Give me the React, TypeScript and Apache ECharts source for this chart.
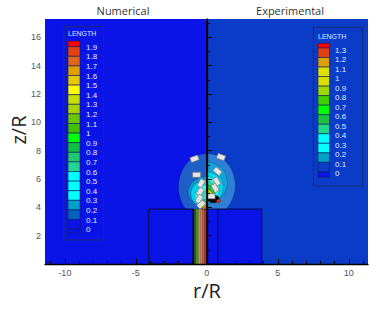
import React, { useEffect, useRef } from "react";
import * as echarts from "echarts";

const X_MIN = -11.4;
const X_MAX = 11.35;
const Y_MIN = 0;
const Y_MAX = 17.3;

const xMajorTicks = [-10, -5, 0, 5, 10];
const xMinorTicks = [-11, -9, -8, -7, -6, -4, -3, -2, -1, 1, 2, 3, 4, 6, 7, 8, 9, 11];
const yMajorTicks = [2, 4, 6, 8, 10, 12, 14, 16];
const yMinorTicks = [1, 3, 5, 7, 9, 11, 13, 15, 17];

// background regions: [r0, r1, z0, z1]
const regions = [
  [-11.4, 0, 0, 17.3],
  [0, 11.35, 0, 17.3],
  [0, 3.87, 0, 3.88],
];
const regionColors = ["#0a14e6", "#0a3cc8", "#0a14e6"];

// jet column stripes (numerical side): [r0, r1, z0, z1]
const jetStripes = [
  [-0.98, -0.9, 0, 3.95],
  [-0.9, -0.76, 0, 3.95],
  [-0.76, -0.6, 0, 3.95],
  [-0.6, -0.46, 0, 3.95],
  [-0.46, -0.32, 0, 3.95],
  [-0.32, -0.16, 0, 3.95],
  [-0.16, 0, 0, 3.95],
];
const jetColors = ["#0c1008", "#28581a", "#5a8c18", "#a0a820", "#d09010", "#dc5a10", "#ee1a04"];

// contour blobs: [side, rCenter, zCenter, rRadius, zRadius, zClip]
const numericalContours = [
  [-1, 0, 5.45, 2.0, 2.35, 3.88],
  [-1, 0, 5.1, 1.32, 1.08, 3.88],
  [-1, 0, 4.95, 1.12, 1.0, 3.88],
  [-1, 0, 4.75, 0.85, 0.85, 3.88],
  [-1, 0, 4.5, 0.6, 0.65, 3.88],
  [-1, 0, 4.2, 0.45, 0.36, 3.88],
  [-1, 0, 4.05, 0.35, 0.22, 3.88],
  [-1, 0, 3.98, 0.2, 0.14, 3.88],
];
const numericalColors = ["#1e5ec8", "#0c96cc", "#00d4ee", "#40f0f0", "#30d8c0", "#20c070", "#a0c000", "#e06000"];

const experimentalContours = [
  [1, 0, 5.55, 2.0, 2.25, 3.88],
  [1, 0, 5.75, 1.45, 1.45, 3.88],
  [1, 0, 5.4, 1.15, 1.1, 3.88],
  [1, 0, 5.3, 0.88, 0.85, 3.88],
  [1, 0, 5.2, 0.65, 0.65, 3.88],
  [1, 0, 5.05, 0.5, 0.55, 3.88],
  [1, 0, 4.85, 0.4, 0.42, 3.88],
  [0, 0.45, 4.6, 0.42, 0.28, 3.88],
  [0, 0.82, 4.45, 0.15, 0.12, 3.88],
];
const experimentalColors = ["#2e80d4", "#14a4d8", "#00d8f0", "#40f4f4", "#30d8a0", "#20c040", "#c0d000", "#000000", "#e03000"];

// nozzle box outlines: [r0, r1, z0, z1]
const boxes = [
  [-4.1, -0.98, 0, 3.88],
  [0, 3.87, 0, 3.88],
];
// separator lines: [r0, z0, r1, z1, width]
const lines = [
  [0, 0, 0, 17.3, 1.3],
  [0.77, 0, 0.77, 3.88, 0.7],
];

// contour labels: [r, z, rotationDeg]
const contourLabels = [
  [-0.87, 7.43, 20],
  [-0.72, 6.3, 0],
  [-0.4, 5.7, 60],
  [-0.47, 5.1, 60],
  [-0.54, 4.6, 60],
  [-0.4, 4.2, 45],
  [1.0, 7.55, -20],
  [0.75, 6.55, -40],
  [0.7, 5.83, -60],
  [0.58, 5.37, -60],
  [0.3, 4.78, 0],
];

const leftLegendLabels = ["1.9", "1.8", "1.7", "1.6", "1.5", "1.4", "1.3", "1.2", "1.1", "1", "0.9", "0.8", "0.7", "0.6", "0.5", "0.4", "0.3", "0.2", "0.1", "0"];
const leftLegendColors = [
  "#ff0000", "#e84010", "#e06818", "#e0a000", "#e8c800", "#ffff00", "#c8e000", "#a8d400", "#68c800", "#40c000",
  "#00ff00", "#10c040", "#20c870", "#20d890", "#00ffff", "#00ffff", "#00ffff", "#00a0c8", "#0060c0", "#0a14e6", "#0a14e6",
];
const rightLegendLabels = ["1.3", "1.2", "1.1", "1", "0.9", "0.8", "0.7", "0.6", "0.5", "0.4", "0.3", "0.2", "0.1", "0"];
const rightLegendColors = [
  "#ff0000", "#e04010", "#e0a000", "#e0e000", "#d8e000", "#a0d800", "#40d000", "#00ff00", "#20c040", "#20d888",
  "#00ffff", "#00ffff", "#00a0c8", "#0a3cc8", "#0a14e6",
];

function ellipseShape(d: number[], api: any) {
  const [side, rc, zc, rr, rz, zClip] = d;
  let a0 = 0;
  let a1 = Math.PI * 2;
  if (side === -1) {
    a0 = Math.PI / 2;
    a1 = (Math.PI * 3) / 2;
  } else if (side === 1) {
    a0 = -Math.PI / 2;
    a1 = Math.PI / 2;
  }
  const pts: number[][] = [];
  const N = 60;
  for (let i = 0; i <= N; i++) {
    const a = a0 + ((a1 - a0) * i) / N;
    const r = rc + rr * Math.cos(a);
    const z = Math.max(zClip, zc + rz * Math.sin(a));
    pts.push(api.coord([r, z]));
  }
  return pts;
}

function legendGraphics(
  box: number[],
  titlePos: number[],
  swX: number,
  swW: number,
  swTop: number,
  firstBoundary: number,
  step: number,
  swBottom: number,
  labelX: number,
  labelDy: number,
  colors: string[],
  labels: string[]
) {
  const els: any[] = [];
  els.push({
    type: "rect",
    z: 100,
    shape: { x: box[0], y: box[1], width: box[2], height: box[3] },
    style: { fill: "none", stroke: "#1a2a78", lineWidth: 1 },
  });
  els.push({
    type: "text",
    z: 100,
    x: titlePos[0],
    y: titlePos[1],
    style: { text: "LENGTH", fontSize: 7, fill: "#dfe6ff", fontFamily: "Liberation Sans", verticalAlign: "middle" },
  });
  const bounds: number[] = [swTop];
  for (let k = 0; k < labels.length; k++) bounds.push(firstBoundary + step * k);
  bounds.push(swBottom);
  for (let i = 0; i < colors.length; i++) {
    els.push({
      type: "rect",
      z: 100,
      shape: { x: swX, y: bounds[i], width: swW, height: bounds[i + 1] - bounds[i] },
      style: { fill: colors[i], stroke: "#14205a", lineWidth: 0.6 },
    });
  }
  labels.forEach((t, k) => {
    els.push({
      type: "text",
      z: 100,
      x: labelX,
      y: firstBoundary + step * k + labelDy,
      style: { text: t, fontSize: 8, fill: "#e6eaff", fontFamily: "Liberation Sans", verticalAlign: "middle" },
    });
  });
  return els;
}

export default function App() {
  const ref = useRef<HTMLDivElement>(null);
  useEffect(() => {
    if (!ref.current) return;
    const chart = echarts.init(ref.current, undefined, { renderer: "svg" });
    const axisFont = "Liberation Sans";
    const leftLegend = legendGraphics([64, 26.5, 39.5, 213.5], [68, 33.5], 68, 12, 41, 46.7, 9.6, 233, 86, 0.5, leftLegendColors, leftLegendLabels);
    const rightLegend = legendGraphics([313.3, 27.3, 49, 158.7], [318, 36], 318, 11.5, 43.3, 48, 9.53, 177.3, 335, 2, rightLegendColors, rightLegendLabels);
    const option: any = {
      animation: false,
      backgroundColor: "#ffffff",
      grid: { left: 45, right: 11, top: 19, bottom: 45, containLabel: false, outerBoundsMode: "none" },
      xAxis: [
        {
          type: "value",
          min: X_MIN,
          max: X_MAX,
          position: "bottom",
          axisLine: { show: true, lineStyle: { color: "#000", width: 1.3 } },
          axisTick: { show: true, inside: true, length: 5, customValues: xMajorTicks, lineStyle: { color: "#000" } },
          axisLabel: { customValues: xMajorTicks, fontSize: 9, color: "#555", fontFamily: axisFont, margin: 4 },
          splitLine: { show: false },
          z: 10,
        },
        {
          type: "value",
          min: X_MIN,
          max: X_MAX,
          position: "bottom",
          axisLine: { show: false },
          axisTick: { show: true, inside: true, length: 3, customValues: xMinorTicks, lineStyle: { color: "#000" } },
          axisLabel: { show: false },
          splitLine: { show: false },
          z: 10,
        },
      ],
      yAxis: [
        {
          type: "value",
          min: Y_MIN,
          max: Y_MAX,
          position: "left",
          axisLine: { show: true, lineStyle: { color: "#000", width: 1.3 } },
          axisTick: { show: true, inside: true, length: 5, customValues: yMajorTicks, lineStyle: { color: "#000" } },
          axisLabel: { customValues: yMajorTicks, fontSize: 9, color: "#555", fontFamily: axisFont, margin: 4 },
          splitLine: { show: false },
          z: 10,
        },
        {
          type: "value",
          min: Y_MIN,
          max: Y_MAX,
          position: "left",
          axisLine: { show: false },
          axisTick: { show: true, inside: true, length: 3, customValues: yMinorTicks, lineStyle: { color: "#000" } },
          axisLabel: { show: false },
          splitLine: { show: false },
          z: 10,
        },
      ],
      series: [
        {
          type: "custom",
          clip: true,
          z: 1,
          data: regions,
          renderItem: (params: any, api: any) => {
            const d = regions[params.dataIndex];
            const p0 = api.coord([d[0], d[3]]);
            const p1 = api.coord([d[1], d[2]]);
            return {
              type: "rect",
              shape: { x: p0[0], y: p0[1], width: p1[0] - p0[0], height: p1[1] - p0[1] },
              style: { fill: regionColors[params.dataIndex] },
            };
          },
        },
        {
          type: "custom",
          clip: true,
          z: 2,
          data: jetStripes,
          renderItem: (params: any, api: any) => {
            const d = jetStripes[params.dataIndex];
            const p0 = api.coord([d[0], d[3]]);
            const p1 = api.coord([d[1], d[2]]);
            return {
              type: "rect",
              shape: { x: p0[0], y: p0[1], width: p1[0] - p0[0], height: p1[1] - p0[1] },
              style: { fill: jetColors[params.dataIndex] },
            };
          },
        },
        {
          type: "custom",
          clip: true,
          z: 3,
          data: numericalContours.map((d) => [d[1], d[2]]),
          renderItem: (params: any, api: any) => {
            const d = numericalContours[params.dataIndex];
            return {
              type: "polygon",
              shape: { points: ellipseShape(d, api) },
              style: { fill: numericalColors[params.dataIndex], stroke: "rgba(0,0,40,0.4)", lineWidth: 0.5 },
            };
          },
        },
        {
          type: "custom",
          clip: true,
          z: 3,
          data: experimentalContours.map((d) => [d[1], d[2]]),
          renderItem: (params: any, api: any) => {
            const d = experimentalContours[params.dataIndex];
            return {
              type: "polygon",
              shape: { points: ellipseShape(d, api) },
              style: { fill: experimentalColors[params.dataIndex], stroke: "rgba(0,0,40,0.4)", lineWidth: 0.5 },
            };
          },
        },
        {
          type: "custom",
          clip: true,
          z: 4,
          data: boxes,
          renderItem: (params: any, api: any) => {
            const d = boxes[params.dataIndex];
            const p0 = api.coord([d[0], d[3]]);
            const p1 = api.coord([d[1], d[2]]);
            return {
              type: "rect",
              shape: { x: p0[0], y: p0[1], width: p1[0] - p0[0], height: p1[1] - p0[1] },
              style: { fill: "none", stroke: "#0a0a30", lineWidth: 0.9 },
            };
          },
        },
        {
          type: "custom",
          clip: true,
          z: 5,
          data: lines.map((d) => [d[0], d[1]]),
          renderItem: (params: any, api: any) => {
            const d = lines[params.dataIndex];
            const p0 = api.coord([d[0], d[1]]);
            const p1 = api.coord([d[2], d[3]]);
            return {
              type: "line",
              shape: { x1: p0[0], y1: p0[1], x2: p1[0], y2: p1[1] },
              style: { stroke: "#000", lineWidth: d[4] },
            };
          },
        },
        {
          type: "custom",
          clip: true,
          z: 6,
          data: contourLabels.map((d) => [d[0], d[1]]),
          renderItem: (params: any, api: any) => {
            const d = contourLabels[params.dataIndex];
            const p = api.coord([d[0], d[1]]);
            return {
              type: "rect",
              x: p[0],
              y: p[1],
              rotation: (d[2] * Math.PI) / 180,
              shape: { x: -4, y: -2.5, width: 8, height: 5 },
              style: { fill: "#e4e4e4", stroke: "#7a7a7a", lineWidth: 0.6 },
            };
          },
        },
      ],
      graphic: [
        {
          type: "text",
          x: 123,
          y: 10,
          z: 100,
          style: { text: "Numerical", fontSize: 11, fill: "#333", fontFamily: "Open Sans", align: "center", verticalAlign: "middle" },
        },
        {
          type: "text",
          x: 290,
          y: 10,
          z: 100,
          style: { text: "Experimental", fontSize: 11, fill: "#333", fontFamily: "Open Sans", align: "center", verticalAlign: "middle" },
        },
        {
          type: "text",
          x: 18,
          y: 130,
          z: 100,
          rotation: Math.PI / 2,
          style: { text: "z/R", fontSize: 20, fill: "#222", fontFamily: "Open Sans", align: "center", verticalAlign: "middle" },
        },
        {
          type: "text",
          x: 207,
          y: 290,
          z: 100,
          style: { text: "r/R", fontSize: 20, fill: "#222", fontFamily: "Open Sans", align: "center", verticalAlign: "middle" },
        },
        ...leftLegend,
        ...rightLegend,
      ],
    };
    chart.setOption(option);
    return () => chart.dispose();
  }, []);
  return (
    <div
      ref={ref}
      style={{ position: "fixed", left: 0, top: 0, width: 379, height: 309, background: "#fff" }}
    />
  );
}
